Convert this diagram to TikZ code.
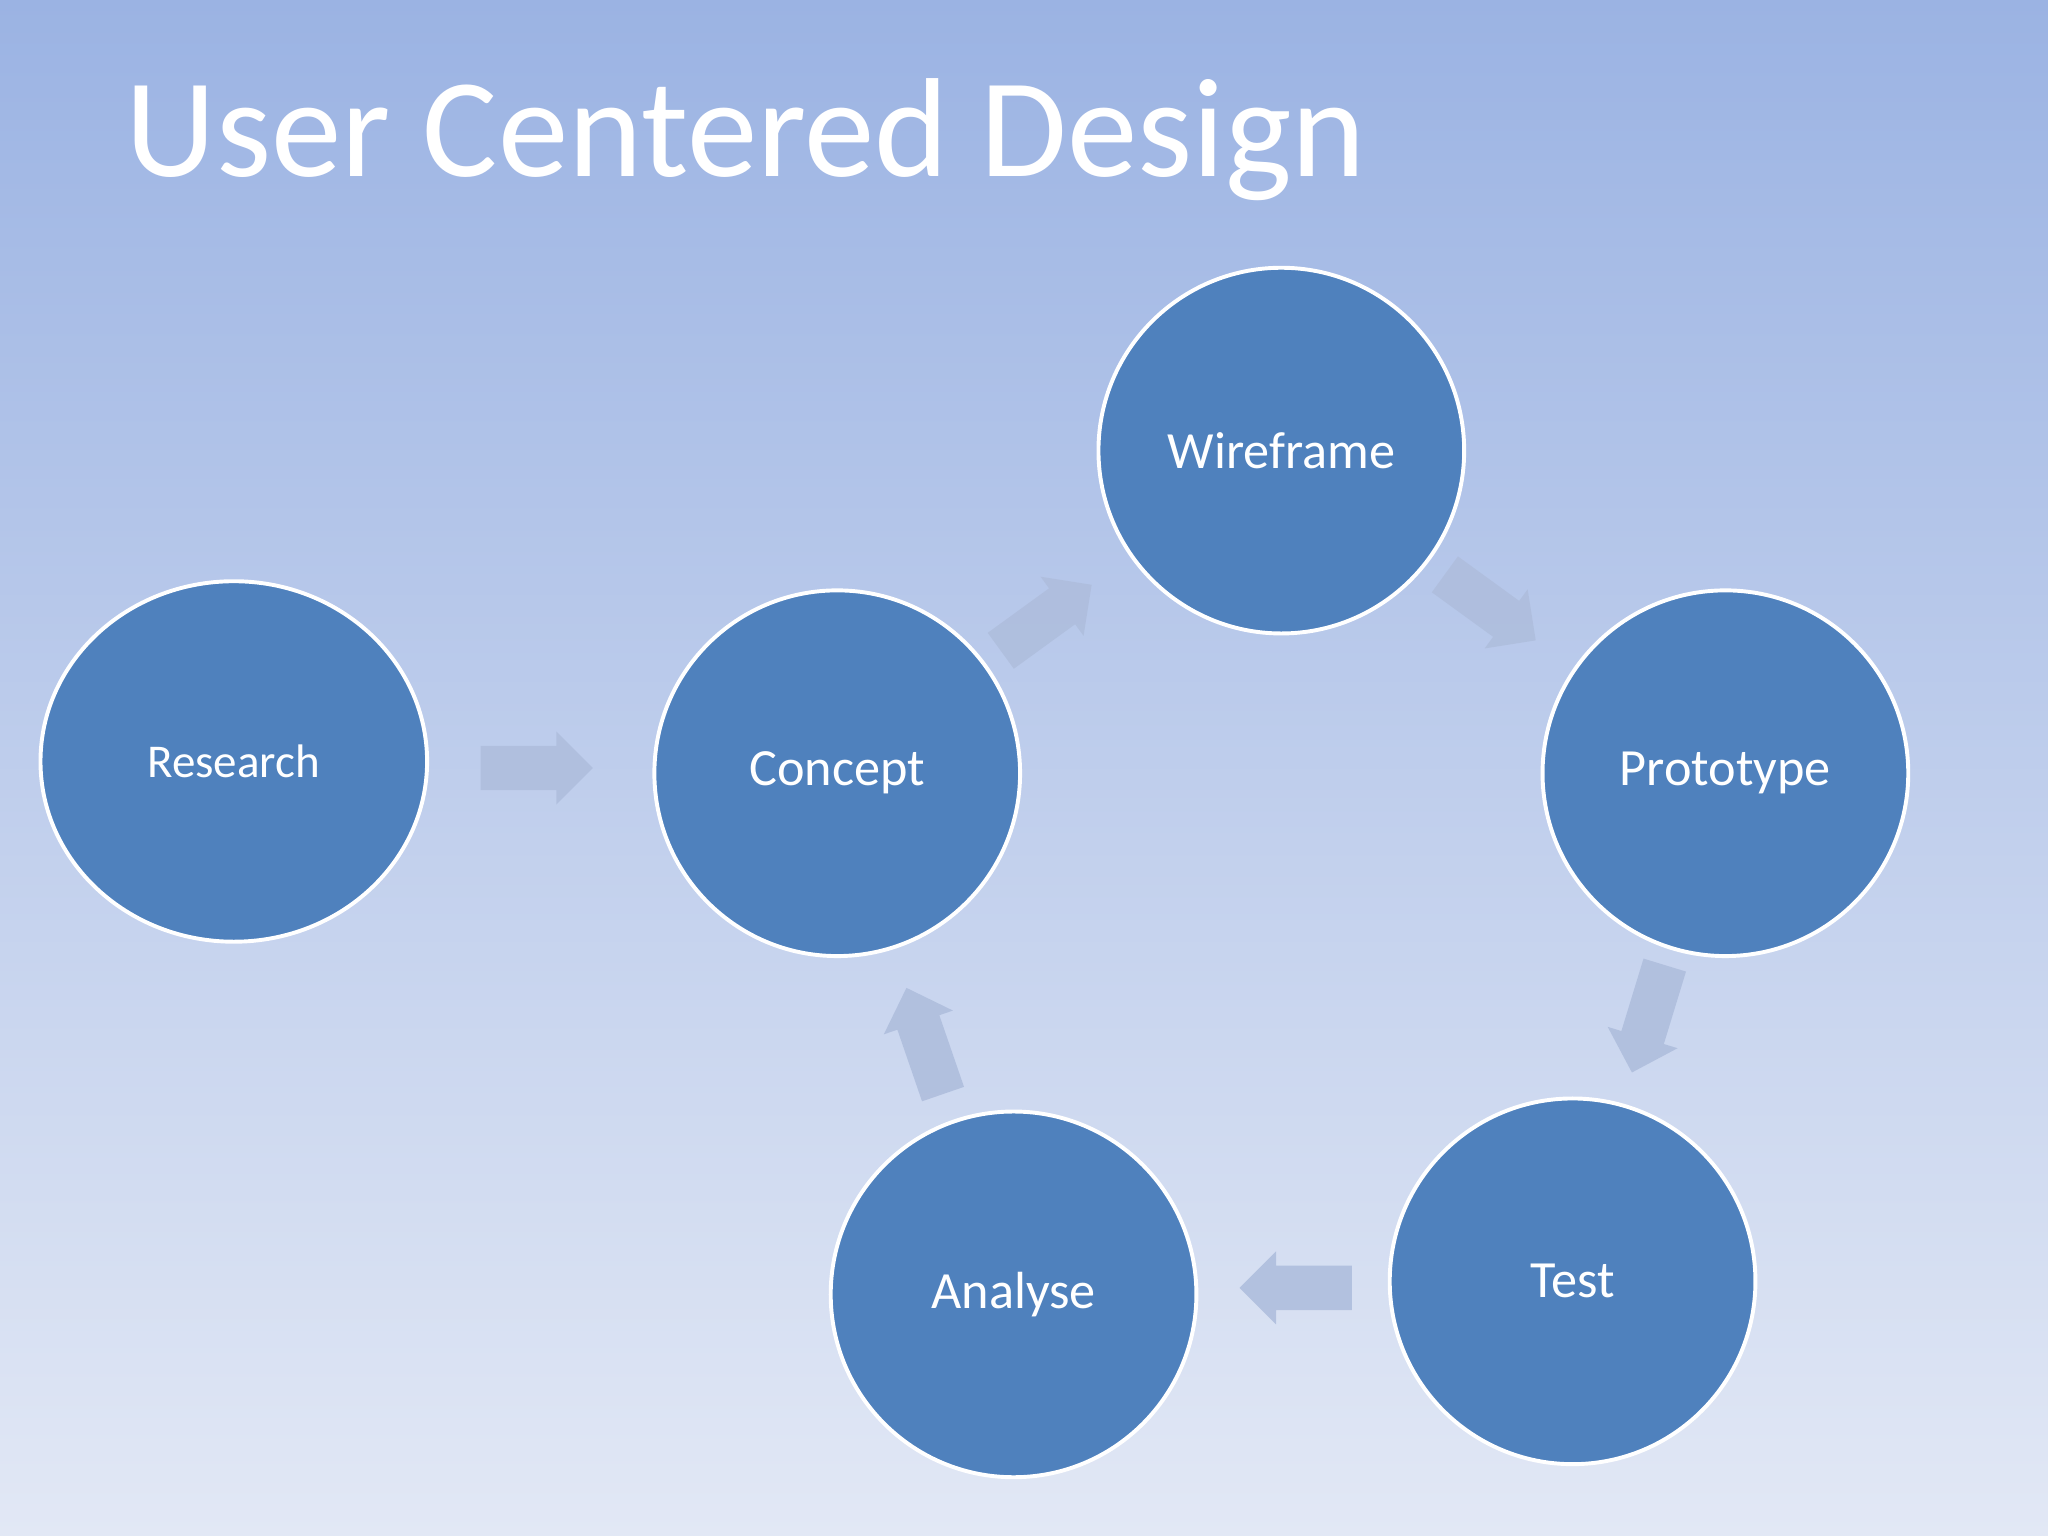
\documentclass[tikz,border=0pt]{standalone}
\usepackage{fontspec}
\setmainfont{Carlito}
\usetikzlibrary{shapes.geometric}
\definecolor{circfill}{HTML}{4F81BD}
\definecolor{arrowc}{HTML}{AFBEDD}
\definecolor{bgtop}{HTML}{9BB3E3}
\definecolor{bgbot}{HTML}{E2E8F5}
\tikzset{
  stage/.style={circle,fill=circfill,draw=white,line width=1.5pt,minimum size=140pt,inner sep=0pt,text=white,font=\fontsize{20}{24}\selectfont},
  flow/.style={fill=arrowc,opacity=0.9}
}
\newcommand\blockarr[2]{\fill[flow,shift={(#1)},rotate=#2] (-43,-17) -- (15,-17) -- (15,-28) -- (43,0) -- (15,28) -- (15,17) -- (-43,17) -- cycle;}
\begin{document}
\begin{tikzpicture}[x=0.5pt,y=0.5pt]
\shade[top color=bgtop,bottom color=bgbot] (0,0) rectangle (1568,-1176);
\useasboundingbox (0,0) rectangle (1568,-1176);
\node[anchor=base west,text=white,font=\fontsize{54}{60}\selectfont,inner sep=0pt] (title) at (96,-135) {User Centered Design};
\node[stage,ellipse,minimum width=148pt,minimum height=138pt,font=\fontsize{18}{22}\selectfont] (research) at (179,-583) {Research};
\node[stage] (concept) at (641,-592) {Concept};
\node[stage] (wire) at (981,-345) {Wireframe};
\node[stage] (proto) at (1321,-592) {Prototype};
\node[stage] (test) at (1204,-981) {Test};
\node[stage] (analyse) at (776,-991) {Analyse};
\blockarr{411,-588}{0}
\blockarr{801,-473}{36}
\blockarr{1141,-465}{-36}
\blockarr{1262,-780}{-107}
\blockarr{992,-986}{180}
\blockarr{708,-797}{109}
\end{tikzpicture}
\end{document}
